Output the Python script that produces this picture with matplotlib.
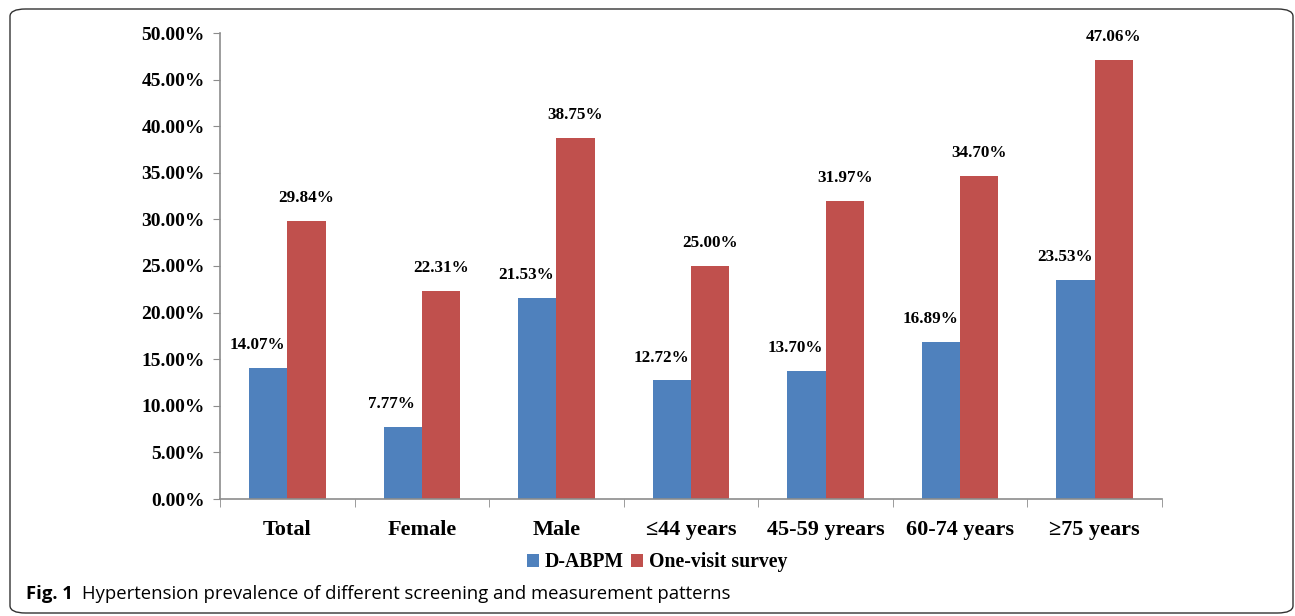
import numpy as np
import matplotlib
matplotlib.use('Agg')
import matplotlib.pyplot as plt
from matplotlib.patches import FancyBboxPatch

categories = ["Total", "Female", "Male", "\u226444 years", "45-59 yrears", "60-74 years", "\u226575 years"]
dabpm = [14.07, 7.77, 21.53, 12.72, 13.70, 16.89, 23.53]
one_visit = [29.84, 22.31, 38.75, 25.00, 31.97, 34.70, 47.06]
yticks = [0, 5, 10, 15, 20, 25, 30, 35, 40, 45, 50]

serif = ['Liberation Serif', 'DejaVu Serif']
sans = ['Open Sans', 'DejaVu Sans']
blue = '#4f81bd'
red = '#c0504d'
grey = '#8c8c8c'

fig = plt.figure(figsize=(12.95, 6.16), dpi=100)
ax = fig.add_axes([220/1295, 1 - 499/616, (1162-220)/1295, (499-33)/616])

x = np.arange(len(categories))
w = 0.285
ax.bar(x - w/2, dabpm, w, color=blue, label='D-ABPM')
ax.bar(x + w/2, one_visit, w, color=red, label='One-visit survey')

# value labels above the bars
for i in range(len(categories)):
    ax.text(x[i] - w/2 - 0.08, dabpm[i] + 1.6, "%.2f%%" % dabpm[i], ha='center', va='bottom',
            family=serif, fontweight='bold', fontsize=12.3)
    ax.text(x[i] + w/2, one_visit[i] + 1.6, "%.2f%%" % one_visit[i], ha='center', va='bottom',
            family=serif, fontweight='bold', fontsize=12.3)

ax.set_xlim(-0.5, len(categories) - 0.5)
ax.set_ylim(0, 50)
ax.set_yticks(yticks)
ax.set_yticklabels(["%.2f%%" % v for v in yticks], family=serif, fontweight='bold', fontsize=14)
ax.set_xticks(x)
ax.set_xticklabels(categories, family=serif, fontweight='bold', fontsize=16)
ax.set_xticks(np.arange(len(categories) + 1) - 0.5, minor=True)
ax.tick_params(axis='x', which='major', length=0, pad=15)
ax.tick_params(axis='x', which='minor', length=6, color=grey, direction='out')
ax.tick_params(axis='y', length=5, color=grey, pad=6)
for s in ['top', 'right']:
    ax.spines[s].set_visible(False)
for s in ['left', 'bottom']:
    ax.spines[s].set_color(grey)
    ax.spines[s].set_linewidth(1.2)

ax.legend(loc='center', bbox_to_anchor=(0.464, -0.136), ncol=2, frameon=False,
          prop={'family': serif, 'weight': 'bold', 'size': 14.2},
          handlelength=0.6, handleheight=0.7, handletextpad=0.3, columnspacing=0.35)

# rounded border and caption
box = FancyBboxPatch((10/1295, 3/616), 1283/1295, 604/616, boxstyle='round,pad=0,rounding_size=0.012',
                     transform=fig.transFigure, fill=False, edgecolor='#333333', linewidth=1.0)
fig.patches.append(box)
fig.text(26/1295, 1 - 594/616, "Fig. 1", family=sans, fontweight='bold',
         fontsize=13.3, va='center', ha='left')
fig.text(82/1295, 1 - 594/616, "Hypertension prevalence of different screening and measurement patterns",
         family=sans, fontsize=13.3, va='center', ha='left')

fig.savefig('out.png', dpi=100)
